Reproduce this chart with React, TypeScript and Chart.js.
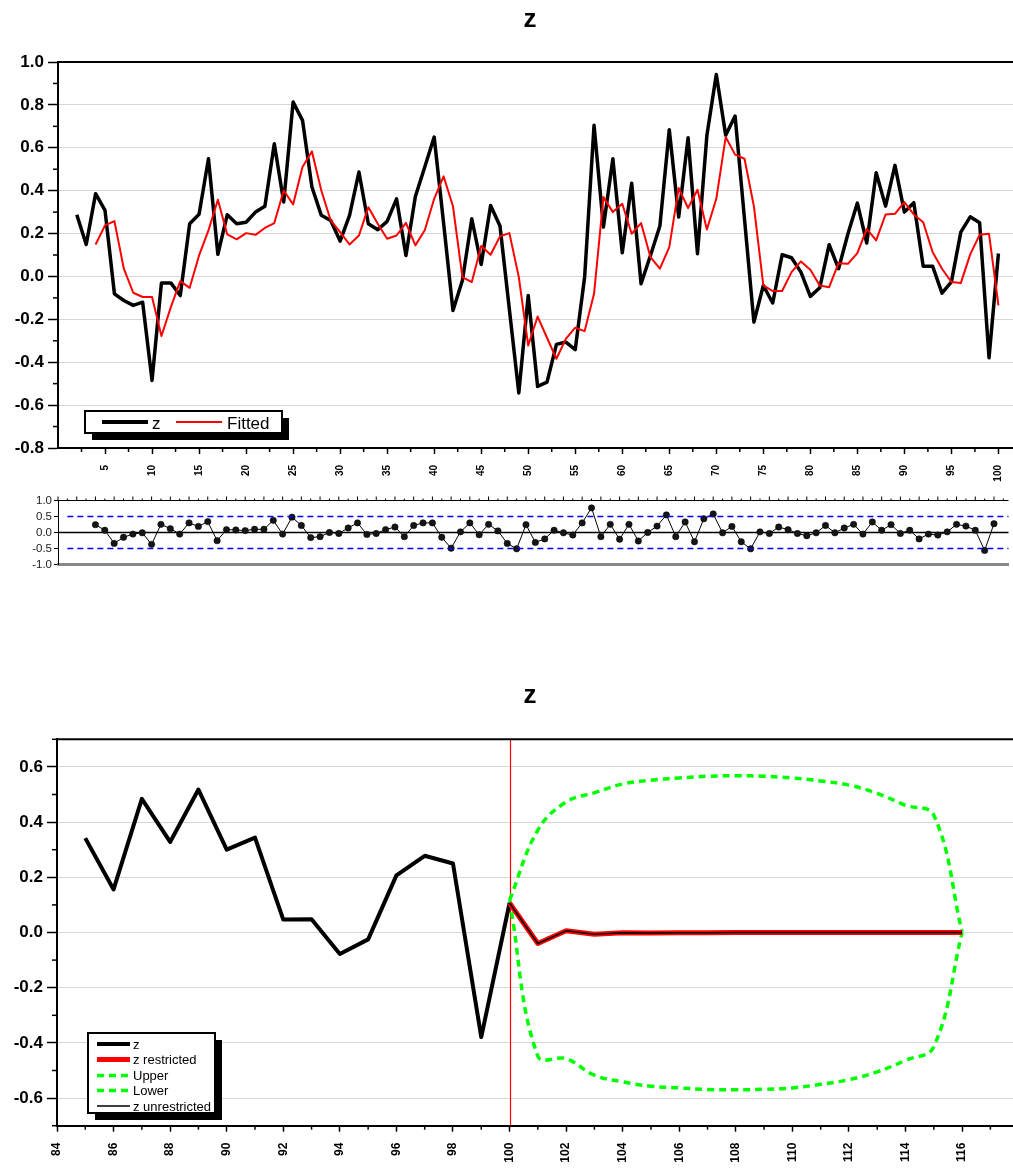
import React, { useEffect, useRef } from "react";
import { Chart, registerables } from "chart.js";

Chart.register(...registerables);

const FONT = "Arial, 'Liberation Sans', Helvetica, sans-serif";

// ---------- DATA ----------
const zStart = 2;
const zValues = [
  0.288, 0.149, 0.386, 0.308, -0.081, -0.112, -0.135, -0.12, -0.485, -0.03,
  -0.03, -0.089, 0.246, 0.29, 0.549, 0.103, 0.288, 0.246, 0.253, 0.3,
  0.327, 0.619, 0.347, 0.813, 0.728, 0.417, 0.285, 0.261, 0.165, 0.285,
  0.487, 0.246, 0.218, 0.257, 0.362, 0.098, 0.373, 0.51, 0.65, 0.25,
  -0.159, -0.019, 0.269, 0.056, 0.331, 0.235, -0.155, -0.543, -0.089, -0.513,
  -0.493, -0.317, -0.306, -0.341, -0.003, 0.705, 0.23, 0.549, 0.11, 0.435,
  -0.034, 0.098, 0.235, 0.684, 0.277, 0.647, 0.106, 0.658, 0.942, 0.658,
  0.748, 0.267, -0.213, -0.042, -0.124, 0.101, 0.087, 0.02, -0.093, -0.053,
  0.148, 0.036, 0.199, 0.342, 0.156, 0.484, 0.328, 0.518, 0.3, 0.344,
  0.047, 0.048, -0.078, -0.025, 0.207, 0.278, 0.25, -0.379, 0.107,
];

const fittedStart = 4;
const fittedValues = [
  0.149, 0.238, 0.258, 0.036, -0.076, -0.096, -0.096, -0.278, -0.143, -0.022,
  -0.053, 0.098, 0.215, 0.358, 0.196, 0.173, 0.202, 0.194, 0.226, 0.249,
  0.401, 0.336, 0.51, 0.583, 0.401, 0.261, 0.207, 0.149, 0.191, 0.323,
  0.246, 0.176, 0.191, 0.25, 0.145, 0.215, 0.362, 0.467, 0.327, -0.003,
  -0.026, 0.142, 0.101, 0.187, 0.202, -0.003, -0.322, -0.187, -0.286, -0.384,
  -0.291, -0.239, -0.255, -0.081, 0.37, 0.3, 0.339, 0.199, 0.249, 0.09,
  0.036, 0.137, 0.412, 0.319, 0.404, 0.219, 0.362, 0.65, 0.568, 0.549,
  0.327, -0.042, -0.068, -0.068, 0.02, 0.07, 0.031, -0.042, -0.05, 0.062,
  0.059, 0.109, 0.222, 0.168, 0.289, 0.292, 0.347, 0.289, 0.253, 0.114,
  0.036, -0.026, -0.031, 0.103, 0.194, 0.199, -0.135,
];

const residStart = 4;
const residValues = [
  0.245, 0.07, -0.34, -0.15, -0.05, -0.01, -0.37, 0.255, 0.12, -0.05,
  0.3, 0.19, 0.34, -0.255, 0.09, 0.08, 0.06, 0.1, 0.1, 0.38,
  -0.05, 0.48, 0.22, -0.16, -0.13, 0.0, -0.03, 0.14, 0.3, -0.06,
  -0.03, 0.09, 0.17, -0.13, 0.22, 0.3, 0.3, -0.15, -0.49, 0.02,
  0.3, -0.07, 0.255, 0.05, -0.34, -0.51, 0.245, -0.31, -0.2, 0.07,
  -0.01, -0.08, 0.3, 0.77, -0.13, 0.255, -0.21, 0.255, -0.265, 0.0,
  0.2, 0.55, -0.13, 0.33, -0.29, 0.43, 0.58, -0.01, 0.19, -0.29,
  -0.51, 0.02, -0.03, 0.17, 0.09, -0.03, -0.1, -0.01, 0.22, -0.01,
  0.14, 0.255, -0.05, 0.33, 0.07, 0.245, -0.03, 0.07, -0.2, -0.05,
  -0.08, 0.02, 0.255, 0.2, 0.07, -0.56, 0.275,
];
const residBand = [0.5, -0.5];

const historyStart = 85;
const forecastStart = 100;
const zRestricted = [0.107, -0.04, 0.006, -0.006, -0.001, -0.002, -0.001, -0.001, 0, 0, 0, 0, 0, 0, 0, 0, 0];
const zUnrestricted = [0.107, -0.04, 0.006, -0.006, -0.001, -0.002, -0.001, -0.001, 0, 0, 0, 0, 0, 0, 0, 0, 0];
const upperBand = [0.117, 0.371, 0.473, 0.506, 0.538, 0.552, 0.56, 0.566, 0.568, 0.566, 0.56, 0.549, 0.534, 0.504, 0.461, 0.425, 0.002];
const lowerBand = [0.117, -0.448, -0.457, -0.517, -0.541, -0.557, -0.563, -0.569, -0.57, -0.568, -0.563, -0.55, -0.533, -0.505, -0.463, -0.414, 0.0];

const topYTicks = [1.0, 0.8, 0.6, 0.4, 0.2, 0.0, -0.2, -0.4, -0.6, -0.8];
const topXTicks = [5, 10, 15, 20, 25, 30, 35, 40, 45, 50, 55, 60, 65, 70, 75, 80, 85, 90, 95, 100];
const resYTicks = [1.0, 0.5, 0.0, -0.5, -1.0];
const botYTicks = [0.6, 0.4, 0.2, 0.0, -0.2, -0.4, -0.6];
const botXTicks = [84, 86, 88, 90, 92, 94, 96, 98, 100, 102, 104, 106, 108, 110, 112, 114, 116];

const toPoints = (start: number, arr: number[]) => arr.map((y, i) => ({ x: start + i, y }));

// ---------- helpers ----------
function hLine(ctx: any, x1: number, y1: number, x2: number, y2: number) {
  ctx.beginPath();
  ctx.moveTo(x1, y1);
  ctx.lineTo(x2, y2);
  ctx.stroke();
}

function setTicks(values: number[]) {
  return (scale: any) => {
    scale.ticks = values.map((v) => ({ value: v }));
  };
}

function fixWidth(w: number) {
  return (scale: any) => {
    scale.width = w;
    scale.paddingTop = 0;
    scale.paddingBottom = 0;
  };
}
function fixHeight(h: number) {
  return (scale: any) => {
    scale.height = h;
    scale.paddingLeft = 0;
    scale.paddingRight = 0;
  };
}

function drawLegend(ctx: any, box: { x: number; y: number; w: number; h: number }, draw: () => void) {
  ctx.save();
  ctx.fillStyle = "#000";
  ctx.fillRect(box.x + 7, box.y + 7, box.w, box.h);
  ctx.fillStyle = "#fff";
  ctx.fillRect(box.x, box.y, box.w, box.h);
  ctx.strokeStyle = "#000";
  ctx.lineWidth = 2;
  ctx.strokeRect(box.x, box.y, box.w, box.h);
  draw();
  ctx.restore();
}

// ---------- TOP CHART ----------
function topConfig(): any {
  return {
    type: "line",
    data: {
      datasets: [
        {
          label: "z",
          data: toPoints(zStart, zValues),
          borderColor: "#000",
          borderWidth: 3.5,
          borderJoinStyle: "round",
          pointRadius: 0,
          tension: 0,
          order: 1,
        },
        {
          label: "Fitted",
          data: toPoints(fittedStart, fittedValues),
          borderColor: "#ff0000",
          borderWidth: 2,
          borderJoinStyle: "round",
          pointRadius: 0,
          tension: 0,
          order: 0,
        },
      ],
    },
    options: {
      animation: false,
      responsive: false,
      devicePixelRatio: 1,
      layout: { padding: { top: 62, left: 0, right: 0, bottom: 0 } },
      plugins: { legend: { display: false }, title: { display: false }, tooltip: { enabled: false } },
      scales: {
        x: {
          type: "linear",
          min: 0,
          max: 101.55,
          afterBuildTicks: setTicks(topXTicks),
          afterFit: fixHeight(37),
          border: { display: true, color: "#000", width: 2 },
          grid: { drawOnChartArea: false, drawTicks: true, tickLength: 6, tickColor: "#000", tickWidth: 1.5 },
          ticks: {
            autoSkip: false,
            minRotation: 90,
            maxRotation: 90,
            padding: 11,
            color: "#000",
            font: { family: FONT, size: 10, weight: "bold" },
            callback: (v: number) => String(v),
          },
        },
        y: {
          min: -0.8,
          max: 1.0,
          afterBuildTicks: setTicks(topYTicks),
          afterFit: fixWidth(58),
          border: { display: true, color: "#000", width: 2 },
          grid: { color: "#d6d6d6", lineWidth: 1, tickColor: "#000", tickLength: 10, tickWidth: 1.5 },
          ticks: {
            autoSkip: false,
            padding: 4,
            color: "#000",
            font: { family: FONT, size: 17, weight: "bold" },
            callback: (v: number) => Number(v).toFixed(1),
          },
        },
      },
    },
    plugins: [
      {
        id: "topDeco",
        afterDraw(chart: any) {
          const { ctx, chartArea: ca, scales } = chart;
          const xs = scales.x;
          const ys = scales.y;
          ctx.save();
          ctx.strokeStyle = "#000";
          ctx.lineWidth = 2;
          hLine(ctx, ca.left, ca.top, ca.right, ca.top);
          ctx.lineWidth = 1.5;
          for (let v = 2.5; v < 101; v += 5) {
            const px = xs.getPixelForValue(v);
            hLine(ctx, px, ca.bottom, px, ca.bottom + 4);
          }
          for (let v = -0.7; v < 1.0; v += 0.2) {
            const py = ys.getPixelForValue(v);
            hLine(ctx, ca.left - 5, py, ca.left, py);
          }
          // title
          ctx.fillStyle = "#000";
          ctx.font = `bold 26px ${FONT}`;
          ctx.textAlign = "center";
          ctx.textBaseline = "alphabetic";
          ctx.fillText("z", 530, 27);
          ctx.restore();

          // legend
          const ds = chart.data.datasets;
          drawLegend(ctx, { x: 85, y: 411, w: 197, h: 22 }, () => {
            ctx.font = `17px ${FONT}`;
            ctx.textAlign = "left";
            ctx.textBaseline = "alphabetic";
            ctx.fillStyle = "#000";
            ctx.lineCap = "butt";
            ctx.strokeStyle = ds[0].borderColor;
            ctx.lineWidth = 4;
            hLine(ctx, 102, 422, 148, 422);
            ctx.fillText(ds[0].label, 152, 429);
            ctx.strokeStyle = ds[1].borderColor;
            ctx.lineWidth = 2;
            hLine(ctx, 176, 422, 222, 422);
            ctx.fillText(ds[1].label, 227, 429);
          });
        },
      },
    ],
  };
}

// ---------- RESIDUAL CHART ----------
function resConfig(): any {
  return {
    type: "line",
    data: {
      datasets: [
        {
          label: "Residual",
          data: toPoints(residStart, residValues),
          borderColor: "#000",
          borderWidth: 1,
          borderJoinStyle: "round",
          pointRadius: 3.2,
          pointBackgroundColor: "#151515",
          pointBorderColor: "#000",
          pointBorderWidth: 0.5,
          tension: 0,
        },
      ],
    },
    options: {
      animation: false,
      responsive: false,
      devicePixelRatio: 1,
      layout: { padding: { top: 10.5, left: 0, right: 0, bottom: 0 } },
      plugins: { legend: { display: false }, title: { display: false }, tooltip: { enabled: false } },
      scales: {
        x: {
          type: "linear",
          min: 0,
          max: 101.55,
          afterFit: fixHeight(10.5),
          border: { display: true, color: "#888", width: 3 },
          grid: { drawOnChartArea: false, drawTicks: false },
          ticks: { display: false },
        },
        y: {
          min: -1,
          max: 1,
          afterBuildTicks: setTicks(resYTicks),
          afterFit: fixWidth(58),
          border: { display: true, color: "#000", width: 1 },
          grid: { drawOnChartArea: false, tickColor: "#000", tickLength: 4, tickWidth: 1 },
          ticks: {
            autoSkip: false,
            padding: 2,
            color: "#222",
            font: { family: FONT, size: 11.5 },
            callback: (v: number) => Number(v).toFixed(1),
          },
        },
      },
    },
    plugins: [
      {
        id: "resDeco",
        beforeDatasetsDraw(chart: any) {
          const { ctx, chartArea: ca, scales } = chart;
          const ys = scales.y;
          ctx.save();
          ctx.strokeStyle = "#000";
          ctx.lineWidth = 1.5;
          const y0 = ys.getPixelForValue(0);
          hLine(ctx, ca.left, y0, ca.right, y0);
          ctx.restore();
        },
        afterDatasetsDraw(chart: any) {
          const { ctx, chartArea: ca, scales } = chart;
          const xs = scales.x;
          const ys = scales.y;
          ctx.save();
          ctx.strokeStyle = "#0000ff";
          ctx.lineWidth = 1.5;
          ctx.setLineDash([6, 4]);
          for (const b of residBand) {
            const py = ys.getPixelForValue(b);
            hLine(ctx, xs.getPixelForValue(1), py, ca.right, py);
          }
          ctx.setLineDash([]);
          ctx.strokeStyle = "#000";
          ctx.lineWidth = 1;
          hLine(ctx, ca.left, ca.top, ca.right, ca.top);
          for (let v = 0; v <= 101; v += 1) {
            const px = xs.getPixelForValue(v);
            hLine(ctx, px, ca.top, px, ca.top - (v % 2 === 0 ? 4 : 2));
          }
          ctx.restore();
        },
      },
    ],
  };
}

// ---------- BOTTOM CHART ----------
function botConfig(): any {
  const history = zValues.slice(historyStart - zStart);
  return {
    type: "line",
    data: {
      datasets: [
        {
          label: "z",
          data: toPoints(historyStart, history),
          borderColor: "#000",
          borderWidth: 4,
          borderJoinStyle: "round",
          pointRadius: 0,
          tension: 0,
          order: 2,
        },
        {
          label: "z restricted",
          data: toPoints(forecastStart, zRestricted),
          borderColor: "#ff0000",
          borderWidth: 5,
          borderJoinStyle: "round",
          pointRadius: 0,
          tension: 0,
          order: 1,
        },
        {
          label: "Upper",
          data: toPoints(forecastStart, upperBand),
          borderColor: "#00ff00",
          borderWidth: 3.5,
          borderDash: [7, 5],
          pointRadius: 0,
          tension: 0.4,
          order: 3,
        },
        {
          label: "Lower",
          data: toPoints(forecastStart, lowerBand),
          borderColor: "#00ff00",
          borderWidth: 3.5,
          borderDash: [7, 5],
          pointRadius: 0,
          tension: 0.4,
          order: 3,
        },
        {
          label: "z unrestricted",
          data: toPoints(forecastStart, zUnrestricted),
          borderColor: "#000",
          borderWidth: 1.5,
          borderJoinStyle: "round",
          pointRadius: 0,
          tension: 0,
          order: 0,
        },
      ],
    },
    options: {
      animation: false,
      responsive: false,
      devicePixelRatio: 1,
      layout: { padding: { top: 79.3, left: 0, right: 0, bottom: 0 } },
      plugins: { legend: { display: false }, title: { display: false }, tooltip: { enabled: false } },
      scales: {
        x: {
          type: "linear",
          min: 84,
          max: 117.8,
          afterBuildTicks: setTicks(botXTicks),
          afterFit: fixHeight(42.3),
          border: { display: true, color: "#000", width: 2 },
          grid: { drawOnChartArea: false, drawTicks: true, tickLength: 6, tickColor: "#000", tickWidth: 1.5 },
          ticks: {
            autoSkip: false,
            minRotation: 90,
            maxRotation: 90,
            padding: 11,
            color: "#000",
            font: { family: FONT, size: 12, weight: "bold" },
            callback: (v: number) => String(v),
          },
        },
        y: {
          min: -0.7,
          max: 0.7,
          afterBuildTicks: setTicks(botYTicks),
          afterFit: fixWidth(57),
          border: { display: true, color: "#000", width: 2 },
          grid: { color: "#d6d6d6", lineWidth: 1, tickColor: "#000", tickLength: 10, tickWidth: 1.5 },
          ticks: {
            autoSkip: false,
            padding: 4,
            color: "#000",
            font: { family: FONT, size: 17, weight: "bold" },
            callback: (v: number) => Number(v).toFixed(1),
          },
        },
      },
    },
    plugins: [
      {
        id: "botDeco",
        beforeDatasetsDraw(chart: any) {
          const { ctx, chartArea: ca, scales } = chart;
          const px = Math.round(scales.x.getPixelForValue(forecastStart)) + 0.5;
          ctx.save();
          ctx.strokeStyle = "#ff0000";
          ctx.lineWidth = 1.2;
          hLine(ctx, px, ca.top, px, ca.bottom);
          ctx.restore();
        },
        afterDraw(chart: any) {
          const { ctx, chartArea: ca, scales } = chart;
          const xs = scales.x;
          const ys = scales.y;
          ctx.save();
          ctx.strokeStyle = "#000";
          ctx.lineWidth = 2;
          hLine(ctx, ca.left, ca.top, ca.right, ca.top);
          ctx.lineWidth = 1.5;
          for (let v = 85; v <= 117; v += 2) {
            const px = xs.getPixelForValue(v);
            hLine(ctx, px, ca.bottom, px, ca.bottom + 4);
          }
          for (let v = -0.7; v <= 0.71; v += 0.2) {
            const py = ys.getPixelForValue(v);
            hLine(ctx, ca.left - 5, py, ca.left, py);
          }
          ctx.fillStyle = "#000";
          ctx.font = `bold 26px ${FONT}`;
          ctx.textAlign = "center";
          ctx.textBaseline = "alphabetic";
          ctx.fillText("z", 530, 43);
          ctx.restore();

          const ds = chart.data.datasets;
          drawLegend(ctx, { x: 88, y: 373, w: 127, h: 80 }, () => {
            ctx.font = `13px ${FONT}`;
            ctx.textAlign = "left";
            ctx.textBaseline = "middle";
            ctx.fillStyle = "#000";
            const rows = [384, 399.5, 415.5, 430.5, 446];
            ds.forEach((d: any, i: number) => {
              ctx.save();
              ctx.strokeStyle = d.borderColor;
              ctx.lineWidth = d.borderWidth;
              ctx.setLineDash(d.borderDash || []);
              ctx.lineCap = "butt";
              hLine(ctx, 97, rows[i], 130, rows[i]);
              ctx.restore();
              ctx.fillText(d.label, 133, rows[i] + 1);
            });
          });
        },
      },
    ],
  };
}

export default function App() {
  const topRef = useRef<HTMLCanvasElement>(null);
  const resRef = useRef<HTMLCanvasElement>(null);
  const botRef = useRef<HTMLCanvasElement>(null);

  useEffect(() => {
    const charts = [
      new Chart(topRef.current as HTMLCanvasElement, topConfig()),
      new Chart(resRef.current as HTMLCanvasElement, resConfig()),
      new Chart(botRef.current as HTMLCanvasElement, botConfig()),
    ];
    return () => charts.forEach((c) => c.destroy());
  }, []);

  return (
    <div style={{ position: "absolute", left: 0, top: 0, width: 1013, height: 1168, background: "#fff", overflow: "hidden" }}>
      <canvas ref={topRef} width={1013} height={485} style={{ position: "absolute", left: 0, top: 0 }} />
      <canvas ref={resRef} width={1013} height={85} style={{ position: "absolute", left: 0, top: 490 }} />
      <canvas ref={botRef} width={1013} height={508} style={{ position: "absolute", left: 0, top: 660 }} />
    </div>
  );
}
